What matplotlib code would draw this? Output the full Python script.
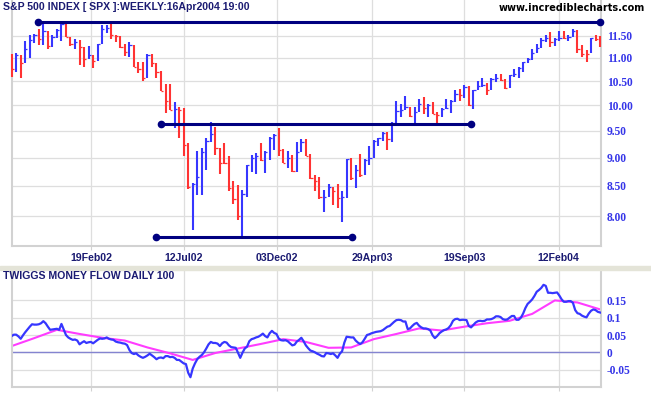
import numpy as np
import pandas as pd
import matplotlib
matplotlib.use('Agg')
import matplotlib.pyplot as plt
from matplotlib.ticker import NullLocator
from matplotlib.patches import Rectangle

# weekly bars (week ending Friday)
weeks = pd.date_range('2001-10-19', '2004-04-16', freq='W-FRI')

high = [11.08, 11.12, 11.07, 11.38, 11.52, 11.54, 11.65, 11.77, 11.62, 11.53,
        11.67, 11.83, 11.81, 11.48, 11.42, 11.40, 11.25, 11.26, 11.06, 11.32,
        11.75, 11.75, 11.77, 11.53, 11.50, 11.32, 11.35, 11.28, 10.92, 10.92,
        11.08, 11.08, 10.88, 10.72, 10.43, 10.44, 10.06, 9.96, 9.94, 9.26,
        8.55, 9.12, 9.17, 9.37, 9.66, 9.57, 9.18, 9.26, 9.03, 8.58,
        8.52, 8.43, 8.87, 9.05, 9.09, 9.27, 9.12, 9.39, 9.44, 9.55,
        9.15, 9.12, 9.05, 9.29, 9.34, 9.35, 9.06, 8.69, 8.65, 8.43,
        8.54, 8.49, 8.53, 8.41, 8.98, 8.99, 8.87, 9.06, 8.97, 9.21,
        9.32, 9.37, 9.48, 9.47, 9.66, 10.08, 10.03, 10.18, 9.97, 9.97,
        10.12, 10.16, 10.02, 10.06, 9.86, 9.94, 10.12, 10.10, 10.31, 10.34,
        10.42, 10.40, 10.31, 10.49, 10.56, 10.45, 10.56, 10.64, 10.64, 10.55,
        10.63, 10.76, 10.79, 10.92, 11.00, 11.21, 11.32, 11.44, 11.53, 11.59,
        11.44, 11.61, 11.61, 11.53, 11.65, 11.63, 11.28, 11.17, 11.46, 11.53,
        11.50]

low = [10.59, 10.69, 10.57, 10.88, 11.00, 11.34, 11.28, 11.30, 11.19, 11.25,
       11.46, 11.38, 11.48, 11.27, 11.21, 10.84, 10.81, 10.97, 10.77, 10.93,
       11.32, 11.56, 11.42, 11.35, 11.22, 11.05, 11.03, 10.79, 10.66, 10.51,
       10.56, 10.79, 10.57, 10.29, 9.84, 9.90, 9.55, 9.37, 9.02, 8.44,
       7.78, 8.34, 8.34, 8.77, 9.29, 9.05, 8.71, 8.89, 8.42, 8.20,
       7.94, 7.68, 8.32, 8.75, 8.70, 8.94, 8.73, 8.96, 9.14, 9.02,
       8.90, 8.82, 8.75, 8.75, 9.11, 9.02, 8.62, 8.42, 8.28, 8.07,
       8.32, 8.18, 8.13, 7.90, 8.29, 8.60, 8.46, 8.66, 8.69, 8.87,
       9.00, 9.21, 9.31, 9.14, 9.29, 9.64, 9.76, 9.91, 9.76, 9.62,
       9.86, 9.82, 9.77, 9.83, 9.63, 9.77, 9.93, 9.85, 10.06, 10.08,
       10.14, 9.99, 9.93, 10.31, 10.38, 10.21, 10.31, 10.47, 10.49, 10.34,
       10.36, 10.58, 10.56, 10.70, 10.88, 10.95, 11.12, 11.22, 11.36, 11.25,
       11.27, 11.38, 11.42, 11.38, 11.47, 11.10, 11.03, 10.90, 11.12, 11.37,
       11.25]

close = [10.76, 11.06, 10.88, 11.21, 11.40, 11.53, 11.42, 11.61, 11.26, 11.48,
         11.64, 11.77, 11.48, 11.31, 11.36, 11.25, 10.97, 11.06, 10.93, 11.32,
         11.67, 11.69, 11.53, 11.50, 11.24, 11.13, 11.30, 10.79, 10.76, 10.57,
         11.07, 10.88, 10.69, 10.29, 10.09, 9.90, 9.93, 9.90, 9.23, 8.49,
         8.54, 8.66, 9.11, 9.30, 9.43, 9.18, 8.91, 8.90, 8.47, 8.28,
         8.00, 8.37, 8.86, 9.00, 9.02, 8.95, 9.11, 9.37, 9.42, 9.14,
         8.91, 8.99, 8.76, 9.11, 9.28, 9.02, 8.63, 8.58, 8.31, 8.32,
         8.49, 8.41, 8.29, 8.32, 8.97, 8.64, 8.78, 8.69, 8.96, 8.99,
         9.31, 9.37, 9.46, 9.34, 9.64, 9.89, 9.91, 9.97, 9.79, 9.86,
         10.02, 9.95, 10.00, 9.83, 9.81, 9.92, 9.95, 10.08, 10.22, 10.21,
         10.38, 10.00, 10.31, 10.40, 10.42, 10.31, 10.55, 10.56, 10.52, 10.36,
         10.62, 10.64, 10.77, 10.90, 10.97, 11.12, 11.23, 11.40, 11.44, 11.35,
         11.42, 11.45, 11.44, 11.47, 11.62, 11.21, 11.09, 11.08, 11.44, 11.42,
         11.37]

# twiggs money flow, read twice a week (Friday and mid-week)
flow_days = pd.date_range('2001-10-19', '2004-04-16', freq='84h')
money_flow = [0.047, 0.051, 0.051, 0.046, 0.039, 0.049, 0.058, 0.066, 0.074, 0.081,
              0.080, 0.080, 0.081, 0.084, 0.090, 0.084, 0.074, 0.065, 0.066, 0.067,
              0.068, 0.065, 0.082, 0.066, 0.050, 0.043, 0.039, 0.036, 0.037, 0.034,
              0.023, 0.028, 0.032, 0.027, 0.029, 0.030, 0.026, 0.031, 0.036, 0.040,
              0.039, 0.040, 0.043, 0.039, 0.037, 0.036, 0.031, 0.029, 0.028, 0.026,
              0.025, 0.021, 0.007, -0.002, -0.005, -0.003, -0.009, -0.013, -0.016, -0.013,
              -0.009, -0.004, -0.009, -0.014, -0.020, -0.016, -0.015, -0.017, -0.011, -0.011,
              -0.014, -0.013, -0.016, -0.022, -0.022, -0.027, -0.032, -0.034, -0.059, -0.072,
              -0.047, -0.032, -0.020, -0.013, -0.008, 0.000, 0.011, 0.023, 0.030, 0.027,
              0.027, 0.025, 0.018, 0.026, 0.030, 0.028, 0.020, 0.015, 0.014, 0.013,
              -0.001, -0.016, -0.001, 0.011, 0.016, 0.032, 0.038, 0.040, 0.043, 0.045,
              0.049, 0.054, 0.047, 0.043, 0.055, 0.062, 0.056, 0.053, 0.040, 0.035,
              0.034, 0.035, 0.032, 0.026, 0.020, 0.022, 0.031, 0.036, 0.042, 0.032,
              0.020, 0.012, 0.005, 0.003, 0.000, -0.004, -0.007, -0.011, -0.012, -0.002,
              -0.003, -0.005, -0.003, -0.009, -0.016, -0.004, 0.003, 0.028, 0.045, 0.044,
              0.043, 0.043, 0.034, 0.028, 0.024, 0.029, 0.039, 0.050, 0.052, 0.055,
              0.057, 0.059, 0.060, 0.061, 0.064, 0.069, 0.074, 0.076, 0.082, 0.088,
              0.093, 0.094, 0.093, 0.089, 0.089, 0.067, 0.069, 0.076, 0.082, 0.085,
              0.077, 0.072, 0.069, 0.069, 0.067, 0.063, 0.049, 0.041, 0.047, 0.055,
              0.060, 0.064, 0.066, 0.070, 0.078, 0.091, 0.096, 0.097, 0.093, 0.094,
              0.094, 0.093, 0.076, 0.072, 0.079, 0.086, 0.090, 0.091, 0.090, 0.091,
              0.095, 0.095, 0.096, 0.099, 0.104, 0.104, 0.102, 0.096, 0.094, 0.095,
              0.100, 0.105, 0.105, 0.094, 0.094, 0.100, 0.112, 0.128, 0.140, 0.146,
              0.153, 0.163, 0.175, 0.180, 0.186, 0.195, 0.192, 0.172, 0.172, 0.171,
              0.172, 0.173, 0.164, 0.153, 0.146, 0.146, 0.148, 0.148, 0.143, 0.122,
              0.113, 0.111, 0.106, 0.103, 0.101, 0.112, 0.120, 0.124, 0.122, 0.117,
              0.115]

# signal line, read every 5 weeks
signal_weeks = weeks[::5]
signal = [0.018, 0.041, 0.065, 0.053, 0.042, 0.034, 0.014, -0.003, -0.022, -0.002,
          0.011, 0.024, 0.038, 0.030, 0.013, 0.014, 0.038, 0.053, 0.069, 0.063,
          0.074, 0.084, 0.091, 0.111, 0.150, 0.144, 0.124]

# trend lines drawn on the chart: start, end, level
trend_lines = [('2001-11-28', '2004-04-16', 11.82),
               ('2002-06-07', '2003-09-30', 9.62),
               ('2002-05-30', '2003-03-30', 7.67)]

price_ticks = [8.0, 8.5, 9.0, 9.5, 10.0, 10.5, 11.0, 11.5]
flow_ticks = [-0.05, 0, 0.05, 0.1, 0.15]
flow_labels = ['-0.05', '0', '0.05', '0.1', '0.15']
date_ticks = pd.to_datetime(['2002-02-19', '2002-07-12', '2002-12-03',
                             '2003-04-29', '2003-09-19', '2004-02-12'])
date_labels = ['19Feb02', '12Jul02', '03Dec02', '29Apr03', '19Sep03', '12Feb04']

BLUE = '#3636ff'
RED = '#ff3333'
NAVY = '#1b1b72'
GRID = '#dedede'
EDGE = '#d2d2d2'

W, H = 651, 395
fig = plt.figure(figsize=(W / 100, H / 100), dpi=100)
fig.patch.set_facecolor('white')

x0, x1 = 12.3 / W, 601 / W
ax1 = fig.add_axes([x0, 1 - 245.5 / H, x1 - x0, 245.5 / H])
ax2 = fig.add_axes([x0, 1 - 386.7 / H, x1 - x0, (386.7 - 269.5) / H])
fig.patches.append(Rectangle((0, 1 - 269.5 / H), 1, 3.2 / H, transform=fig.transFigure,
                             color='#e4e4d8', zorder=0))

hi = np.array(high)
lo = np.array(low)
cl = np.array(close)
up = np.r_[False, np.diff(cl) > 0]
colors = np.where(up, BLUE, RED)

ax1.vlines(weeks, lo, hi, colors=colors, lw=1.5, clip_on=False, zorder=3)
ax1.hlines(cl, weeks, weeks + pd.Timedelta(days=3.5), colors=colors, lw=0.9, zorder=3)

for start, end, level in trend_lines:
    ax1.plot(pd.to_datetime([start, end]), [level, level], color='#000080', lw=2.2,
             marker='o', ms=4.5, zorder=4, clip_on=False)

xlim = (pd.Timestamp('2001-10-20'), pd.Timestamp('2004-04-17 10:00'))

ax1.set_yscale('log')
ax1.set_ylim(7.54, 12.36)
ax1.yaxis.set_minor_locator(NullLocator())
ax1.yaxis.tick_right()
ax1.set_yticks(price_ticks, labels=['%.2f' % t for t in price_ticks],
               fontfamily='Liberation Serif', fontweight='bold', fontsize=8.3, color='#3535e8')

ax2.plot(flow_days, money_flow, color=BLUE, lw=1.6, zorder=3)
ax2.plot(signal_weeks, signal, color='#ff3cff', lw=1.5, zorder=2)
ax2.axhline(0, color='#8484d0', lw=1, zorder=1)
ax2.set_ylim(-0.0994, 0.2393)
ax2.yaxis.tick_right()
ax2.set_yticks(flow_ticks, labels=flow_labels,
               fontfamily='Liberation Serif', fontweight='bold', fontsize=8.3, color='#3535e8')

for ax in (ax1, ax2):
    ax.set_xlim(*xlim)
    ax.set_axisbelow(True)
    ax.grid(True, color=GRID, lw=0.9)
    ax.spines['top'].set_visible(False)
    for side in ('left', 'bottom', 'right'):
        ax.spines[side].set_color(EDGE)
        ax.spines[side].set_linewidth(1.5)
    ax.tick_params(axis='y', length=0, pad=4.3)
    ax.tick_params(axis='x', length=3, width=0.8, color=EDGE, direction='out', pad=2.6)

ax1.set_xticks(date_ticks, labels=date_labels, fontfamily='Liberation Sans',
               fontweight='bold', fontsize=7.6, color=NAVY)
ax2.set_xticks(date_ticks, labels=[''] * len(date_ticks))

fig.text(3 / W, 1 - 10 / H, 'S&P 500 INDEX [ SPX ]:WEEKLY:16Apr2004 19:00',
         family='Liberation Sans', fontweight='bold', fontsize=7.6, color=NAVY,
         ha='left', va='baseline')
fig.text(645 / W, 1 - 10.7 / H, 'www.incrediblecharts.com', family='DejaVu Sans',
         fontweight='bold', fontsize=7, color='black', ha='right', va='baseline')
fig.text(3.3 / W, 1 - 279.3 / H, 'TWIGGS MONEY FLOW DAILY 100', family='Liberation Sans',
         fontweight='bold', fontsize=7.6, color=NAVY, ha='left', va='baseline')

fig.savefig('out.png', dpi=100)
